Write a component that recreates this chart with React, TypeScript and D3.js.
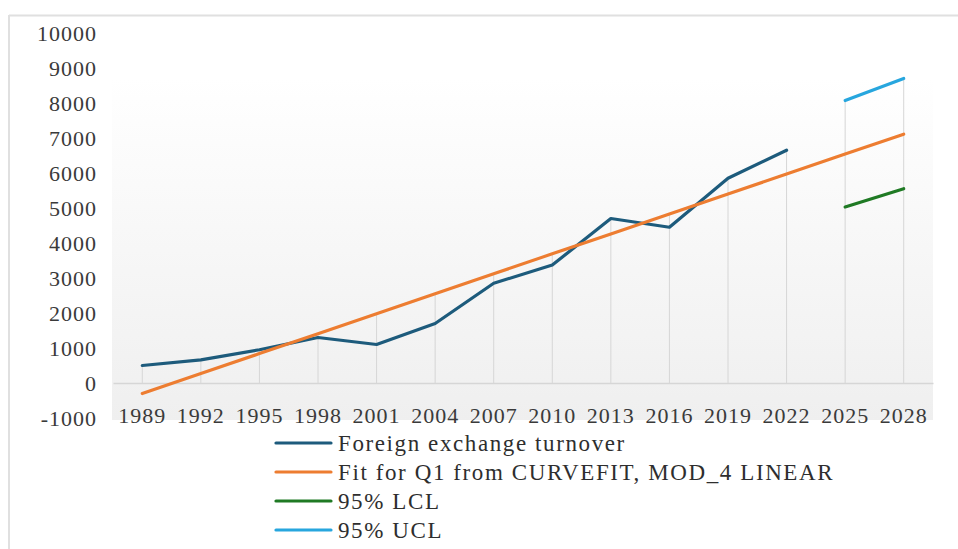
import React, { useRef, useEffect } from "react";
import { select, scaleBand, scaleLinear, axisLeft, axisBottom, line, max } from "d3";

const years = ["1989", "1992", "1995", "1998", "2001", "2004", "2007", "2010", "2013", "2016", "2019", "2022", "2025", "2028"];
const turnover = [500, 660, 950, 1300, 1100, 1700, 2850, 3370, 4700, 4450, 5850, 6650, null, null];
const fit = [-300, 270, 840, 1410, 1980, 2550, 3120, 3690, 4260, 4830, 5400, 5970, 6540, 7110];
const lcl = [null, null, null, null, null, null, null, null, null, null, null, null, 5030, 5550];
const ucl = [null, null, null, null, null, null, null, null, null, null, null, null, 8070, 8700];
const yTicks = [-1000, 0, 1000, 2000, 3000, 4000, 5000, 6000, 7000, 8000, 9000, 10000];

const series = [
  { name: "Foreign exchange turnover", values: turnover, color: "#1d5b7c" },
  { name: "Fit for Q1 from CURVEFIT, MOD_4 LINEAR", values: fit, color: "#ed7d31" },
  { name: "95% LCL", values: lcl, color: "#1f7a24" },
  { name: "95% UCL", values: ucl, color: "#27a6de" },
];

const App = () => {
  const svgRef = useRef(null);

  useEffect(() => {
    const svg = select(svgRef.current);
    svg.selectAll("*").remove();

    const x = scaleBand().domain(years).range([113, 933]);
    const y = scaleLinear().domain([-1000, 10000]).range([418, 33]);
    const cx = (d) => x(d) + x.bandwidth() / 2;

    // outer frame
    svg.append("line").attr("x1", 9).attr("x2", 958).attr("y1", 15.5).attr("y2", 15.5)
      .attr("stroke", "#e0e0e0").attr("stroke-width", 2);
    svg.append("line").attr("x1", 9).attr("x2", 9).attr("y1", 15).attr("y2", 549)
      .attr("stroke", "#e0e0e0").attr("stroke-width", 2);

    // plot background gradient
    const grad = svg.append("defs").append("linearGradient")
      .attr("id", "bg").attr("x1", 0).attr("x2", 0).attr("y1", 0).attr("y2", 1);
    grad.append("stop").attr("offset", "0%").attr("stop-color", "#ffffff");
    grad.append("stop").attr("offset", "100%").attr("stop-color", "#efefef");
    svg.append("rect").attr("x", 112).attr("y", 78).attr("width", 821).attr("height", 342)
      .attr("fill", "url(#bg)");

    // drop lines
    svg.selectAll(".drop")
      .data(years)
      .join("line")
      .attr("class", "drop")
      .attr("x1", (d) => cx(d))
      .attr("x2", (d) => cx(d))
      .attr("y1", y(0))
      .attr("y2", (d, i) => y(max(series, (s) => s.values[i]) as number))
      .attr("stroke", "#d6d6d6")
      .attr("stroke-width", 1);

    // axes
    const yAxis = axisLeft(y).tickValues(yTicks).tickFormat((d) => String(d)).tickSize(0).tickPadding(0);
    svg.append("g").attr("transform", "translate(97,0)").call(yAxis)
      .call((g) => g.select(".domain").remove())
      .selectAll("text")
      .attr("font-family", "'Liberation Serif', serif")
      .attr("font-size", 22)
      .attr("letter-spacing", 1)
      .attr("fill", "#3a3a3a")
      .attr("dy", "0.34em");

    const xAxis = axisBottom(x).tickSize(0).tickPadding(0);
    svg.append("g").attr("transform", `translate(0,${y(0)})`).call(xAxis)
      .call((g) => g.select(".domain").attr("stroke", "#d6d6d6").attr("stroke-width", 1.5))
      .selectAll("text")
      .attr("font-family", "'Liberation Serif', serif")
      .attr("font-size", 22)
      .attr("letter-spacing", 1)
      .attr("fill", "#3a3a3a")
      .attr("dy", "0")
      .attr("y", 40);

    // series lines
    const lineGen = line()
      .defined((d) => d[1] !== null)
      .x((d) => cx(d[0]))
      .y((d) => y(d[1]));

    series.forEach((s) => {
      svg.append("path")
        .datum(years.map((yr, i) => [yr, s.values[i]]))
        .attr("d", lineGen)
        .attr("fill", "none")
        .attr("stroke", s.color)
        .attr("stroke-width", 3.2)
        .attr("stroke-linecap", "round")
        .attr("stroke-linejoin", "round");
    });

    // legend
    const legend = svg.selectAll(".legend")
      .data(series)
      .join("g")
      .attr("class", "legend")
      .attr("transform", (d, i) => `translate(276,${443 + i * 29})`);
    legend.append("line")
      .attr("x1", 0).attr("x2", 55)
      .attr("stroke", (d) => d.color)
      .attr("stroke-width", 3.2)
      .attr("stroke-linecap", "round");
    legend.append("text")
      .attr("x", 62)
      .attr("dy", "0.34em")
      .attr("font-family", "'Liberation Serif', serif")
      .attr("font-size", 23)
      .attr("letter-spacing", 1.6)
      .attr("fill", "#2e2e2e")
      .text((d) => d.name);
  }, []);

  return (
    <svg ref={svgRef} width={958} height={549}
      style={{ position: "absolute", left: 0, top: 0, background: "#fff" }} />
  );
};

export default App;
